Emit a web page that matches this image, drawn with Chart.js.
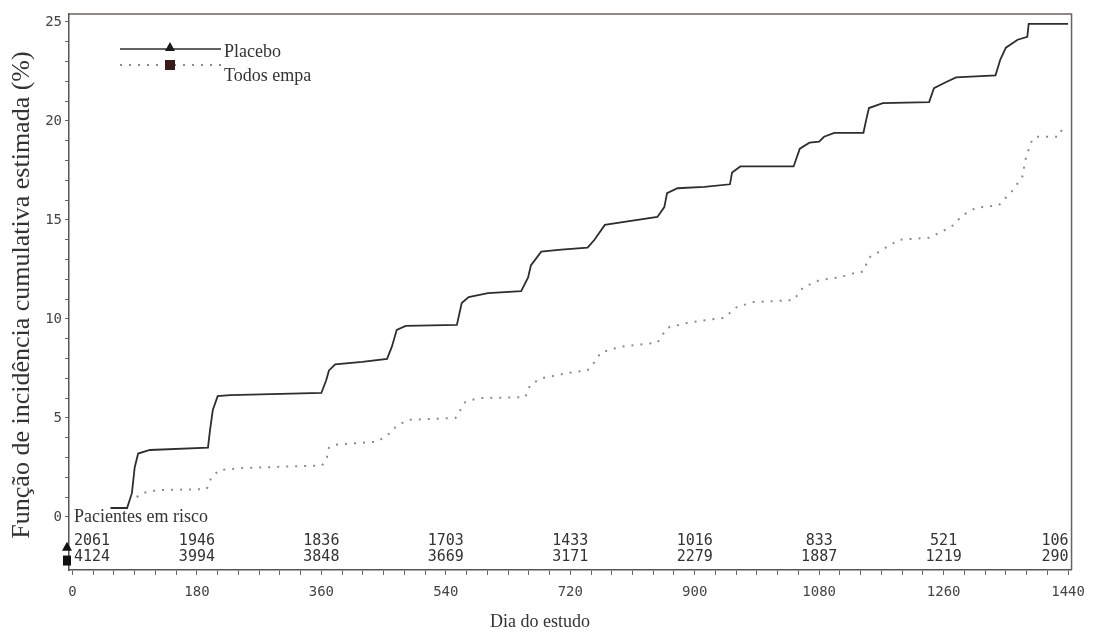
<!DOCTYPE html>
<html>
<head>
<meta charset="utf-8">
<script src="https://cdn.jsdelivr.net/npm/chart.js@4.4.1/dist/chart.umd.min.js"></script>
<style>
  body { margin: 0; background: #fff; }
  #container { width: 1094px; height: 632px; }
</style>
</head>
<body>
<div id="container"><canvas id="chart" width="1094" height="632"></canvas></div>
<script>
// curva de incidência cumulativa (dia, %)
const placeboDays = [55, 79, 86, 90, 95, 112, 196, 199, 203, 210, 228, 360, 367, 371, 380, 419, 455, 462, 469, 482, 556, 563, 573, 601, 649, 659, 663, 678, 707, 745, 755, 770, 798, 846, 856, 860, 875, 914, 951, 954, 966, 1043, 1052, 1066, 1080, 1087, 1102, 1144, 1148, 1152, 1172, 1239, 1246, 1263, 1278, 1335, 1342, 1350, 1367, 1381, 1383, 1440]
const placeboValues = [0.45, 0.45, 1.2, 2.5, 3.2, 3.38, 3.5, 4.4, 5.4, 6.1, 6.15, 6.26, 6.9, 7.4, 7.7, 7.83, 7.98, 8.6, 9.45, 9.65, 9.7, 10.8, 11.1, 11.3, 11.4, 12.1, 12.7, 13.4, 13.5, 13.6, 14.0, 14.75, 14.9, 15.15, 15.65, 16.35, 16.6, 16.67, 16.8, 17.4, 17.7, 17.7, 18.6, 18.9, 18.95, 19.2, 19.4, 19.4, 20.05, 20.65, 20.9, 20.95, 21.65, 21.95, 22.2, 22.3, 23.1, 23.7, 24.1, 24.25, 24.9, 24.9]

const empaDays = [93, 100, 124, 194, 201, 213, 246, 361, 368, 371, 381, 440, 455, 469, 486, 554, 561, 568, 587, 655, 662, 678, 717, 745, 757, 764, 793, 846, 860, 889, 918, 942, 961, 985, 1043, 1057, 1080, 1109, 1129, 1144, 1152, 1196, 1239, 1271, 1288, 1306, 1340, 1360, 1374, 1378, 1386, 1393, 1426, 1433]
const empaValues = [1.0, 1.2, 1.36, 1.4, 2.0, 2.37, 2.47, 2.6, 3.0, 3.5, 3.65, 3.8, 4.1, 4.6, 4.9, 5.0, 5.4, 5.8, 6.0, 6.05, 6.67, 7.0, 7.27, 7.4, 7.9, 8.3, 8.6, 8.8, 9.55, 9.8, 9.95, 10.05, 10.6, 10.85, 10.95, 11.6, 11.95, 12.1, 12.3, 12.4, 13.1, 14.0, 14.1, 14.65, 15.25, 15.6, 15.75, 16.5, 17.2, 18.0, 18.9, 19.2, 19.2, 19.7]

// pacientes em risco
const riskDays = [0, 180, 360, 540, 720, 900, 1080, 1260, 1440]
const riskPlacebo = [2061, 1946, 1836, 1703, 1433, 1016, 833, 521, 106]
const riskEmpa = [4124, 3994, 3848, 3669, 3171, 2279, 1887, 1219, 290]

const xTickLabels = [0, 180, 360, 540, 720, 900, 1080, 1260, 1440]
const yTickLabels = [0, 5, 10, 15, 20, 25]

const seriesNames = ["Placebo", "Todos empa"]

const toPoints = (days, values) => days.map((d, i) => ({ x: d, y: values[i] }))

const serif = "'Liberation Serif', 'DejaVu Serif', serif"
const mono = "'DejaVu Sans Mono', 'Liberation Mono', monospace"

const drawTriangle = (ctx, x, y, s) => {
	ctx.beginPath()
	ctx.moveTo(x, y - s)
	ctx.lineTo(x + s, y + s * 0.8)
	ctx.lineTo(x - s, y + s * 0.8)
	ctx.closePath()
	ctx.fill()
}

// cadre, légende, tableau des patients à risque, titres des axes
const extras = {
	id: "extras",
	afterDraw(chart) {
		const ctx = chart.ctx
		const area = chart.chartArea
		const xs = chart.scales.x
		const ys = chart.scales.y
		ctx.save()

		// cadre haut + droite
		ctx.strokeStyle = "#6b625c"
		ctx.lineWidth = 1.5
		ctx.beginPath()
		ctx.moveTo(area.left, area.top)
		ctx.lineTo(area.right, area.top)
		ctx.lineTo(area.right, area.bottom)
		ctx.stroke()

		// légende
		ctx.strokeStyle = "#2e2e2e"
		ctx.lineWidth = 1.6
		ctx.beginPath()
		ctx.moveTo(120, 49)
		ctx.lineTo(221, 49)
		ctx.stroke()
		ctx.strokeStyle = "#8c8c8c"
		ctx.lineWidth = 2
		ctx.setLineDash([2, 7])
		ctx.beginPath()
		ctx.moveTo(120, 65)
		ctx.lineTo(221, 65)
		ctx.stroke()
		ctx.setLineDash([])
		ctx.fillStyle = "#1a1a1a"
		drawTriangle(ctx, 170, 47, 5)
		ctx.fillStyle = "#3a1a1a"
		ctx.fillRect(165, 60, 10, 10)
		ctx.fillStyle = "#333"
		ctx.font = "18px " + serif
		ctx.textAlign = "left"
		ctx.textBaseline = "middle"
		ctx.fillText(seriesNames[0], 224, 52)
		ctx.fillText(seriesNames[1], 224, 76)

		// pacientes em risco
		ctx.fillText("Pacientes em risco", 74, ys.getPixelForValue(0))
		ctx.font = "15px " + mono
		const rows = [[riskPlacebo, -1.2], [riskEmpa, -2.05]]
		rows.forEach(([vals, yv]) => {
			const py = ys.getPixelForValue(yv)
			vals.forEach((v, i) => {
				let px = xs.getPixelForValue(riskDays[i])
				if (i === 0) { ctx.textAlign = "left"; px = area.left + 5 }
				else if (i === vals.length - 1) { ctx.textAlign = "right"; px = area.right - 3 }
				else ctx.textAlign = "center"
				ctx.fillText(String(v), px, py)
			})
		})
		ctx.fillStyle = "#111"
		drawTriangle(ctx, area.left - 2, ys.getPixelForValue(-1.5), 5)
		ctx.fillRect(area.left - 6, ys.getPixelForValue(-1.95), 8, 10)

		// titres des axes
		ctx.fillStyle = "#333"
		ctx.font = "18px " + serif
		ctx.textAlign = "center"
		ctx.fillText("Dia do estudo", 540, 622)
		ctx.translate(22, 295)
		ctx.rotate(-Math.PI / 2)
		ctx.font = "26px " + serif
		ctx.fillText("Função de incidência cumulativa estimada (%)", 0, 0)
		ctx.restore()
	}
}

const chartConfig = {
	type: "line",
	data: {
		datasets: [
			{
				label: seriesNames[0],
				data: toPoints(placeboDays, placeboValues),
				borderColor: "#2e2e2e",
				borderWidth: 1.8,
				pointRadius: 0,
				tension: 0,
				fill: false
			},
			{
				label: seriesNames[1],
				data: toPoints(empaDays, empaValues),
				borderColor: "#8c8c8c",
				borderWidth: 2,
				borderDash: [2, 7],
				pointRadius: 0,
				tension: 0,
				fill: false
			}
		]
	},
	options: {
		responsive: false,
		animation: false,
		layout: { padding: { top: 14, right: 16, left: 0, bottom: 0 } },
		plugins: { legend: { display: false }, tooltip: { enabled: false } },
		scales: {
			x: {
				type: "linear",
				min: -5,
				max: 1445,
				afterBuildTicks: scale => {
					const t = []
					for (let v = 0; v <= 1440; v += 30) t.push({ value: v })
					scale.ticks = t
				},
				afterFit: scale => { scale.height = 62 },
				ticks: {
					autoSkip: false,
					maxRotation: 0,
					padding: 9,
					color: "#444",
					font: { family: mono, size: 14 },
					callback: v => xTickLabels.includes(v) ? String(v) : ""
				},
				grid: { drawOnChartArea: false, tickLength: 5, tickColor: "#666" },
				border: { color: "#555", width: 1.5 }
			},
			y: {
				min: -2.68,
				max: 25.4,
				afterBuildTicks: scale => {
					const t = []
					for (let v = 0; v <= 25; v += 1) t.push({ value: v })
					scale.ticks = t
				},
				afterFit: scale => { scale.width = 69 },
				ticks: {
					autoSkip: false,
					padding: 3,
					color: "#444",
					font: { family: mono, size: 14 },
					callback: v => yTickLabels.includes(v) ? String(v) : ""
				},
				grid: { drawOnChartArea: false, tickLength: 4, tickColor: "#666" },
				border: { color: "#555", width: 1.5 }
			}
		}
	},
	plugins: [extras]
}

new Chart(document.getElementById("chart"), chartConfig)
</script>
</body>
</html>
